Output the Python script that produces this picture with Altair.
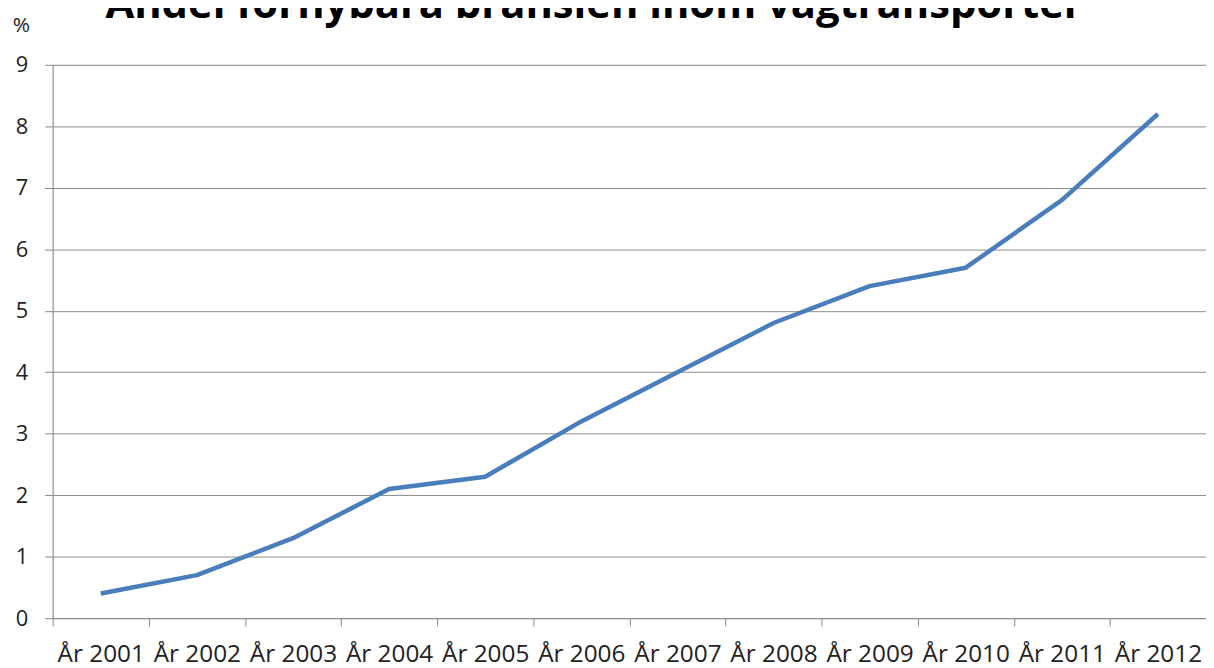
import altair as alt
import pandas as pd

years = ["År 2001", "År 2002", "År 2003", "År 2004", "År 2005", "År 2006",
         "År 2007", "År 2008", "År 2009", "År 2010", "År 2011", "År 2012"]
shares = [0.4, 0.7, 1.3, 2.1, 2.3, 3.2, 4.0, 4.8, 5.4, 5.7, 6.8, 8.2]
y_ticks = [0, 1, 2, 3, 4, 5, 6, 7, 8, 9]
title_text = ["Andel förnybara bränslen inom vägtransporter"]

df = pd.DataFrame({"year": years, "share": shares})
tdf = pd.DataFrame({"t": title_text})

line = alt.Chart(df).mark_line(color="#4a7ebb", strokeWidth=4.5, strokeJoin="round").encode(
    x=alt.X("year:N", sort=years, bandPosition=0.5,
            scale=alt.Scale(type="band", paddingInner=0, paddingOuter=0),
            axis=alt.Axis(title=None, tickBand="extent", tickSize=8, labelAngle=0,
                          labelFontSize=24.5, labelFont="Open Sans", labelColor="#222",
                          labelPadding=17, domainColor="#888", tickColor="#888",
                          grid=False, labelOverlap=False)),
    y=alt.Y("share:Q", scale=alt.Scale(domain=[0, 9], nice=False),
            axis=alt.Axis(values=y_ticks, title="%", titleAngle=0, titleX=-32, titleY=-40,
                          titleAlign="center", titleBaseline="middle", titleFontSize=21,
                          titleFont="Open Sans", titleFontWeight="normal", titleColor="#222",
                          labelFontSize=22, labelFont="Open Sans", labelColor="#222",
                          labelPadding=17, tickSize=8, tickColor="#888", domainColor="#888",
                          grid=True, gridColor="#8c8c8c", gridWidth=1)),
)

title = alt.Chart(tdf).mark_text(font="Open Sans", fontSize=42, fontWeight="bold",
                                  color="#000", align="center", baseline="alphabetic").encode(
    text="t:N", x=alt.value(545), y=alt.value(-47))

chart = alt.layer(line, title).properties(
    width=1161, height=557,
    autosize=alt.AutoSizeParams(type="none"),
    padding={"left": 45, "top": 55, "right": 0, "bottom": 48},
).configure_view(stroke=None).configure(background="white")

chart.save("out.html", embed_options={"renderer": "svg", "actions": False})
